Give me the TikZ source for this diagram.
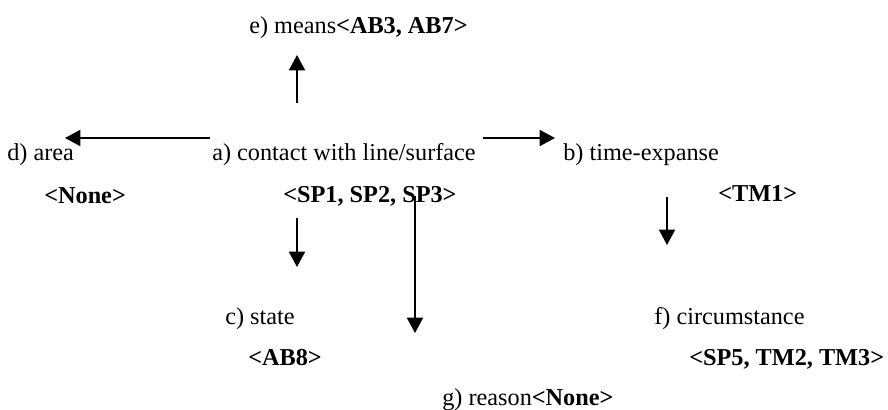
\documentclass[tikz,border=0pt]{standalone}
\usepackage{fontspec}
\setmainfont{Liberation Serif}
\usetikzlibrary{arrows.meta}

\begin{document}
\begin{tikzpicture}[x=0.75pt, y=-0.75pt,
    lbl/.style={anchor=base west, inner sep=0pt, font=\fontsize{18.2}{22}\selectfont},
    rel/.style={-{Triangle[length=11.5pt,width=12pt]}, line width=1.4pt},
]
    \useasboundingbox (0,0) rectangle (888,410);

    % Central relation
    \node[lbl] (a) at (212,160) {a) contact with line/surface};
    \node[lbl] (aval) at (283,202) {\textbf{<SP1, SP2, SP3>}};

    % Roles around it
    \node[lbl] (e) at (249,34) {e) means\textbf{<AB3, AB7>}};

    \node[lbl] (d) at (7,160) {d) area};
    \node[lbl] (dval) at (44,203) {\textbf{<None>}};

    \node[lbl] (b) at (563,160) {b) time-expanse};
    \node[lbl] (bval) at (718,201) {\textbf{<TM1>}};

    \node[lbl] (c) at (225,324) {c) state};
    \node[lbl] (cval) at (248,365) {\textbf{<AB8>}};

    \node[lbl] (f) at (654,324) {f) circumstance};
    \node[lbl] (fval) at (689,365) {\textbf{<SP5, TM2, TM3>}};

    \node[lbl] (g) at (442,405) {g) reason\textbf{<None>}};

    % Arrow ends
    \coordinate (a-e) at (297,103);  \coordinate (e-in) at (297,55);
    \coordinate (a-d) at (210,138);  \coordinate (d-in) at (65,138);
    \coordinate (a-b) at (483,138);  \coordinate (b-in) at (555,138);
    \coordinate (a-c) at (297,218);  \coordinate (c-in) at (297,267);
    \coordinate (a-g) at (415,196);  \coordinate (g-in) at (415,333);
    \coordinate (b-f) at (667,197);  \coordinate (f-in) at (667,245);

    \draw[rel] (a-e) -- (e-in);
    \draw[rel] (a-d) -- (d-in);
    \draw[rel] (a-b) -- (b-in);
    \draw[rel] (a-c) -- (c-in);
    \draw[rel] (a-g) -- (g-in);
    \draw[rel] (b-f) -- (f-in);
\end{tikzpicture}
\end{document}
